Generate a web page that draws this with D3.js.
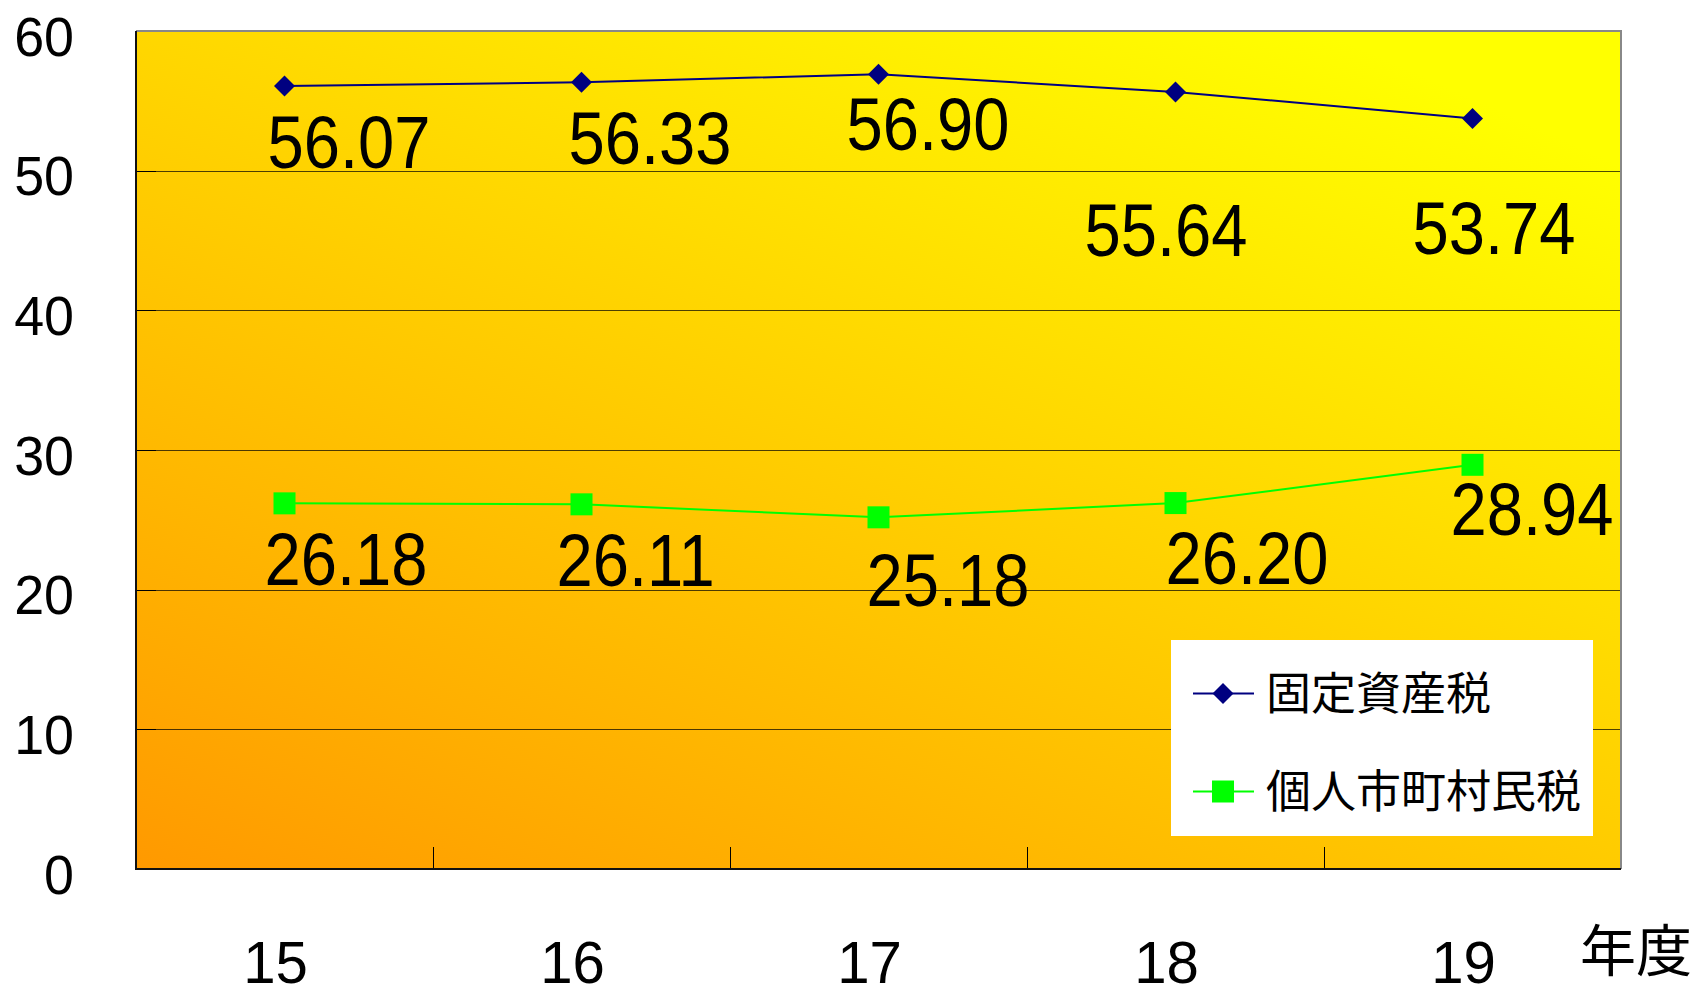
<!DOCTYPE html>
<html lang="ja">
<head>
<meta charset="utf-8">
<script src="https://cdn.jsdelivr.net/npm/d3@7/dist/d3.min.js"></script>
<style>
  html, body { margin: 0; padding: 0; background: #ffffff; }
  svg { display: block; }
</style>
</head>
<body>
<svg id="chart" width="1693" height="996"></svg>
<script>
// Fiscal years (heisei) on the category axis
const years = ["15", "16", "17", "18", "19"];
// Property tax share
const fixedAssetTax = [56.07, 56.33, 56.90, 55.64, 53.74];
// Individual municipal resident tax share
const residentTax = [26.18, 26.11, 25.18, 26.20, 28.94];
// Value axis ticks
const yTicks = [0, 10, 20, 30, 40, 50, 60];
const seriesNames = ["固定資産税", "個人市町村民税"];
const axisUnit = "年度";

// Hand-placed value label offsets (dx, dy from each point)
const fixedLabelOffsets = [[-17, 82], [-13, 82], [-32, 76], [-91, 164], [-60, 136]];
const residentLabelOffsets = [[-20, 82], [-25, 82], [-12, 89], [-10, 81], [-22, 70]];

const plot = { left: 136, right: 1621, top: 31, bottom: 869 };
const latinFont = "'Liberation Sans', Arial, sans-serif";
const cjkFont = "'Noto Sans CJK JP', 'Noto Sans CJK SC', sans-serif";

const svg = d3.select("#chart");

const x = d3.scaleBand().domain(years).range([plot.left, plot.right]);
const y = d3.scaleLinear().domain([0, 60]).range([plot.bottom, plot.top]);
const cx = d => x(d) + x.bandwidth() / 2;

// Diagonal orange-to-yellow plot fill
const defs = svg.append("defs");
const grad = defs.append("linearGradient")
  .attr("id", "plotFill")
  .attr("x1", 0).attr("y1", 1).attr("x2", 0.8).attr("y2", 0);
grad.append("stop").attr("offset", "0%").attr("stop-color", "#ff9900");
grad.append("stop").attr("offset", "100%").attr("stop-color", "#ffff00");

svg.append("rect")
  .attr("x", plot.left).attr("y", plot.top)
  .attr("width", plot.right - plot.left).attr("height", plot.bottom - plot.top)
  .attr("fill", "url(#plotFill)");

// Horizontal gridlines
svg.append("g")
  .attr("transform", `translate(${plot.left},0)`)
  .call(d3.axisLeft(y).tickValues(yTicks).tickSize(-(plot.right - plot.left)).tickFormat(""))
  .call(g => g.select(".domain").remove())
  .call(g => g.selectAll("line")
    .attr("stroke", "#000").attr("stroke-opacity", 0.7).attr("shape-rendering", "crispEdges"));

// Value axis: inside ticks and labels
svg.append("g")
  .attr("transform", `translate(${plot.left},0)`)
  .call(d3.axisLeft(y).tickValues(yTicks).tickSize(-20).tickPadding(62).tickFormat(d3.format("d")))
  .call(g => g.select(".domain").remove())
  .call(g => g.selectAll("line").attr("stroke", "#000").attr("shape-rendering", "crispEdges"))
  .call(g => g.selectAll("text")
    .attr("x", null).attr("dy", null)
    .attr("transform", "translate(-62,24) scale(0.97,1)")
    .attr("text-anchor", "end")
    .attr("fill", "#000")
    .style("font-family", latinFont)
    .style("font-size", "55.5px"));

// Category boundary ticks (inside)
svg.append("g")
  .selectAll("line")
  .data(years.slice(1))
  .join("line")
  .attr("x1", d => x(d)).attr("x2", d => x(d))
  .attr("y1", plot.bottom - 22).attr("y2", plot.bottom)
  .attr("stroke", "#000")
  .attr("shape-rendering", "crispEdges");

// Category labels
svg.append("g")
  .attr("transform", `translate(0,${plot.bottom})`)
  .call(d3.axisBottom(x).tickSize(0).tickPadding(0))
  .call(g => g.select(".domain").remove())
  .call(g => g.selectAll("text")
    .attr("y", null).attr("dy", null)
    .attr("transform", "translate(-9,114) scale(0.97,1)")
    .attr("text-anchor", "middle")
    .attr("fill", "#000")
    .style("font-family", latinFont)
    .style("font-size", "60px"));

// Unit label
svg.append("text")
  .attr("x", 1580).attr("y", 971)
  .attr("fill", "#000")
  .style("font-family", cjkFont)
  .style("font-size", "56px")
  .text(axisUnit);

// Plot frame: gray top/right, black axes left/bottom
svg.append("path")
  .attr("d", `M${plot.left},${plot.top}H${plot.right}V${plot.bottom}`)
  .attr("fill", "none").attr("stroke", "#888888").attr("stroke-width", 2);
svg.append("path")
  .attr("d", `M${plot.left},${plot.top}V${plot.bottom}H${plot.right}`)
  .attr("fill", "none").attr("stroke", "#111111").attr("stroke-width", 2);

const series = [
  { name: seriesNames[0], values: fixedAssetTax, color: "#000080", shape: "diamond", offsets: fixedLabelOffsets },
  { name: seriesNames[1], values: residentTax, color: "#00ff00", shape: "square", offsets: residentLabelOffsets }
];

const diamond = d3.symbol().type(d3.symbolSquare).size(220);
const square = d3.symbol().type(d3.symbolSquare).size(484);
const markerPath = s => (s.shape === "diamond" ? diamond() : square());
const markerTransform = (s, px, py) =>
  s.shape === "diamond" ? `translate(${px},${py}) rotate(45)` : `translate(${px},${py})`;

const line = d3.line().x(d => cx(d.year)).y(d => y(d.value));
const fmt = d3.format(".2f");

series.forEach(s => {
  const pts = years.map((year, i) => ({ year, value: s.values[i], off: s.offsets[i] }));

  svg.append("path")
    .datum(pts)
    .attr("d", line)
    .attr("fill", "none")
    .attr("stroke", s.color)
    .attr("stroke-width", 2);

  svg.append("g")
    .selectAll("path")
    .data(pts)
    .join("path")
    .attr("d", () => markerPath(s))
    .attr("transform", d => markerTransform(s, cx(d.year), y(d.value)))
    .attr("fill", s.color);

  svg.append("g")
    .selectAll("text")
    .data(pts)
    .join("text")
    .attr("transform", d =>
      `translate(${cx(d.year) + d.off[0]},${y(d.value) + d.off[1]}) scale(0.88,1)`)
    .attr("fill", "#000")
    .style("font-family", latinFont)
    .style("font-size", "74px")
    .text(d => fmt(d.value));
});

// Legend
const legend = svg.append("g");
legend.append("rect")
  .attr("x", 1171).attr("y", 640).attr("width", 422).attr("height", 196)
  .attr("fill", "#ffffff");

const item = legend.selectAll("g.item")
  .data(series)
  .join("g")
  .attr("class", "item")
  .attr("transform", (d, i) => `translate(0,${693.5 + i * 98})`);

item.append("line")
  .attr("x1", 1193).attr("x2", 1254)
  .attr("stroke", d => d.color).attr("stroke-width", 2);
item.append("path")
  .attr("d", d => markerPath(d))
  .attr("transform", d => markerTransform(d, 1223, 0))
  .attr("fill", d => d.color);
item.append("text")
  .attr("x", 1266).attr("y", 16.5)
  .attr("fill", "#000")
  .style("font-family", cjkFont)
  .style("font-size", "45px")
  .text(d => d.name);
</script>
</body>
</html>
